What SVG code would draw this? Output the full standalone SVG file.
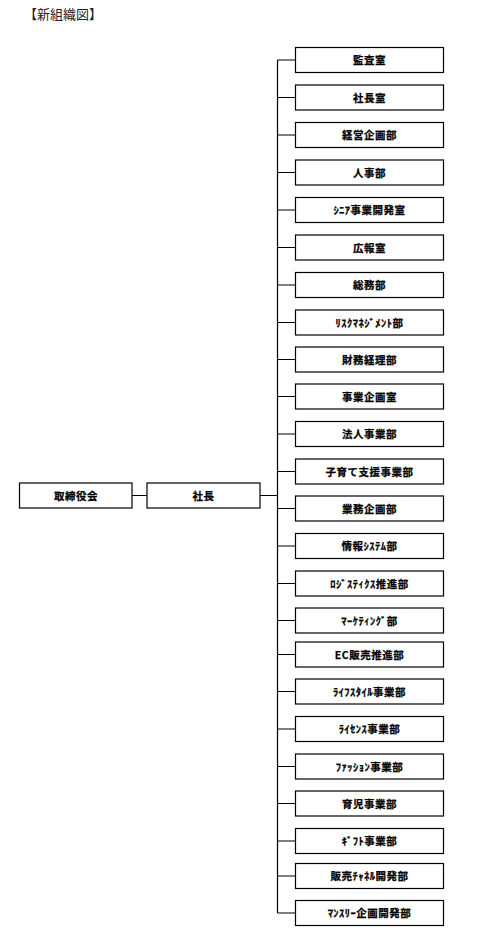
<svg xmlns="http://www.w3.org/2000/svg" width="489" height="939" viewBox="0 0 489 939">
<style>
.box{fill:#fff;stroke:#000;stroke-width:1.2}
.ln{fill:none;stroke:#000;stroke-width:1.2}
.t{font-family:"Noto Sans CJK JP","Liberation Sans",sans-serif;font-size:10.5px;font-weight:bold;text-anchor:middle;fill:#000;stroke:#000;stroke-width:0.25;letter-spacing:0.5px}
.title{font-family:"Noto Sans CJK JP","Liberation Sans",sans-serif;font-size:13px;fill:#222}
</style>
<rect width="489" height="939" fill="#fff"/>
<text class="title" x="24" y="19">【新組織図】</text>
<g id="connectors">
<path class="ln" d="M132,495.5H147M260,495.5H277.5M277.5,60V913"/>
<path class="ln" d="M277.5,60H295.5M277.5,97.5H295.5M277.5,135H295.5M277.5,172.5H295.5M277.5,210H295.5M277.5,247.5H295.5M277.5,285H295.5M277.5,322.5H295.5M277.5,359.5H295.5M277.5,396.5H295.5M277.5,434H295.5M277.5,471.5H295.5M277.5,508.5H295.5M277.5,546H295.5M277.5,583.5H295.5M277.5,620.5H295.5M277.5,654.5H295.5M277.5,691.5H295.5M277.5,729H295.5M277.5,766.5H295.5M277.5,803.5H295.5M277.5,841H295.5M277.5,876H295.5M277.5,913H295.5"/>
</g>
<g id="n-board"><rect class="box" x="19.5" y="483" width="112.5" height="25"/><text class="t" x="76" y="499.5">取締役会</text></g>
<g id="n-president"><rect class="box" x="147" y="483" width="113" height="25"/><text class="t" x="203.5" y="499.5">社長</text></g>
<g id="n1"><rect class="box" x="295.5" y="47.5" width="148" height="25"/><text class="t" x="369.5" y="64">監査室</text></g>
<g id="n2"><rect class="box" x="295.5" y="85" width="148" height="25"/><text class="t" x="369.5" y="101.5">社長室</text></g>
<g id="n3"><rect class="box" x="295.5" y="122.5" width="148" height="25"/><text class="t" x="369.5" y="139">経営企画部</text></g>
<g id="n4"><rect class="box" x="295.5" y="160" width="148" height="25"/><text class="t" x="369.5" y="176.5">人事部</text></g>
<g id="n5"><rect class="box" x="295.5" y="197.5" width="148" height="25"/><text class="t" x="369.5" y="214">ｼﾆｱ事業開発室</text></g>
<g id="n6"><rect class="box" x="295.5" y="235" width="148" height="25"/><text class="t" x="369.5" y="251.5">広報室</text></g>
<g id="n7"><rect class="box" x="295.5" y="272.5" width="148" height="25"/><text class="t" x="369.5" y="289">総務部</text></g>
<g id="n8"><rect class="box" x="295.5" y="310" width="148" height="25"/><text class="t" x="369.5" y="326.5">ﾘｽｸﾏﾈｼﾞﾒﾝﾄ部</text></g>
<g id="n9"><rect class="box" x="295.5" y="347" width="148" height="25"/><text class="t" x="369.5" y="363.5">財務経理部</text></g>
<g id="n10"><rect class="box" x="295.5" y="384" width="148" height="25"/><text class="t" x="369.5" y="400.5">事業企画室</text></g>
<g id="n11"><rect class="box" x="295.5" y="421.5" width="148" height="25"/><text class="t" x="369.5" y="438">法人事業部</text></g>
<g id="n12"><rect class="box" x="295.5" y="459" width="148" height="25"/><text class="t" x="369.5" y="475.5">子育て支援事業部</text></g>
<g id="n13"><rect class="box" x="295.5" y="496" width="148" height="25"/><text class="t" x="369.5" y="512.5">業務企画部</text></g>
<g id="n14"><rect class="box" x="295.5" y="533.5" width="148" height="25"/><text class="t" x="369.5" y="550">情報ｼｽﾃﾑ部</text></g>
<g id="n15"><rect class="box" x="295.5" y="571" width="148" height="25"/><text class="t" x="369.5" y="587.5">ﾛｼﾞｽﾃｨｸｽ推進部</text></g>
<g id="n16"><rect class="box" x="295.5" y="608" width="148" height="25"/><text class="t" x="369.5" y="624.5">ﾏｰｹﾃｨﾝｸﾞ部</text></g>
<g id="n17"><rect class="box" x="295.5" y="642" width="148" height="25"/><text class="t" x="369.5" y="658.5">EC販売推進部</text></g>
<g id="n18"><rect class="box" x="295.5" y="679" width="148" height="25"/><text class="t" x="369.5" y="695.5">ﾗｲﾌｽﾀｲﾙ事業部</text></g>
<g id="n19"><rect class="box" x="295.5" y="716.5" width="148" height="25"/><text class="t" x="369.5" y="733">ﾗｲｾﾝｽ事業部</text></g>
<g id="n20"><rect class="box" x="295.5" y="754" width="148" height="25"/><text class="t" x="369.5" y="770.5">ﾌｧｯｼｮﾝ事業部</text></g>
<g id="n21"><rect class="box" x="295.5" y="791" width="148" height="25"/><text class="t" x="369.5" y="807.5">育児事業部</text></g>
<g id="n22"><rect class="box" x="295.5" y="828.5" width="148" height="25"/><text class="t" x="369.5" y="845">ｷﾞﾌﾄ事業部</text></g>
<g id="n23"><rect class="box" x="295.5" y="863.5" width="148" height="25"/><text class="t" x="369.5" y="880">販売ﾁｬﾈﾙ開発部</text></g>
<g id="n24"><rect class="box" x="295.5" y="900.5" width="148" height="25"/><text class="t" x="369.5" y="917">ﾏﾝｽﾘｰ企画開発部</text></g>
</svg>
